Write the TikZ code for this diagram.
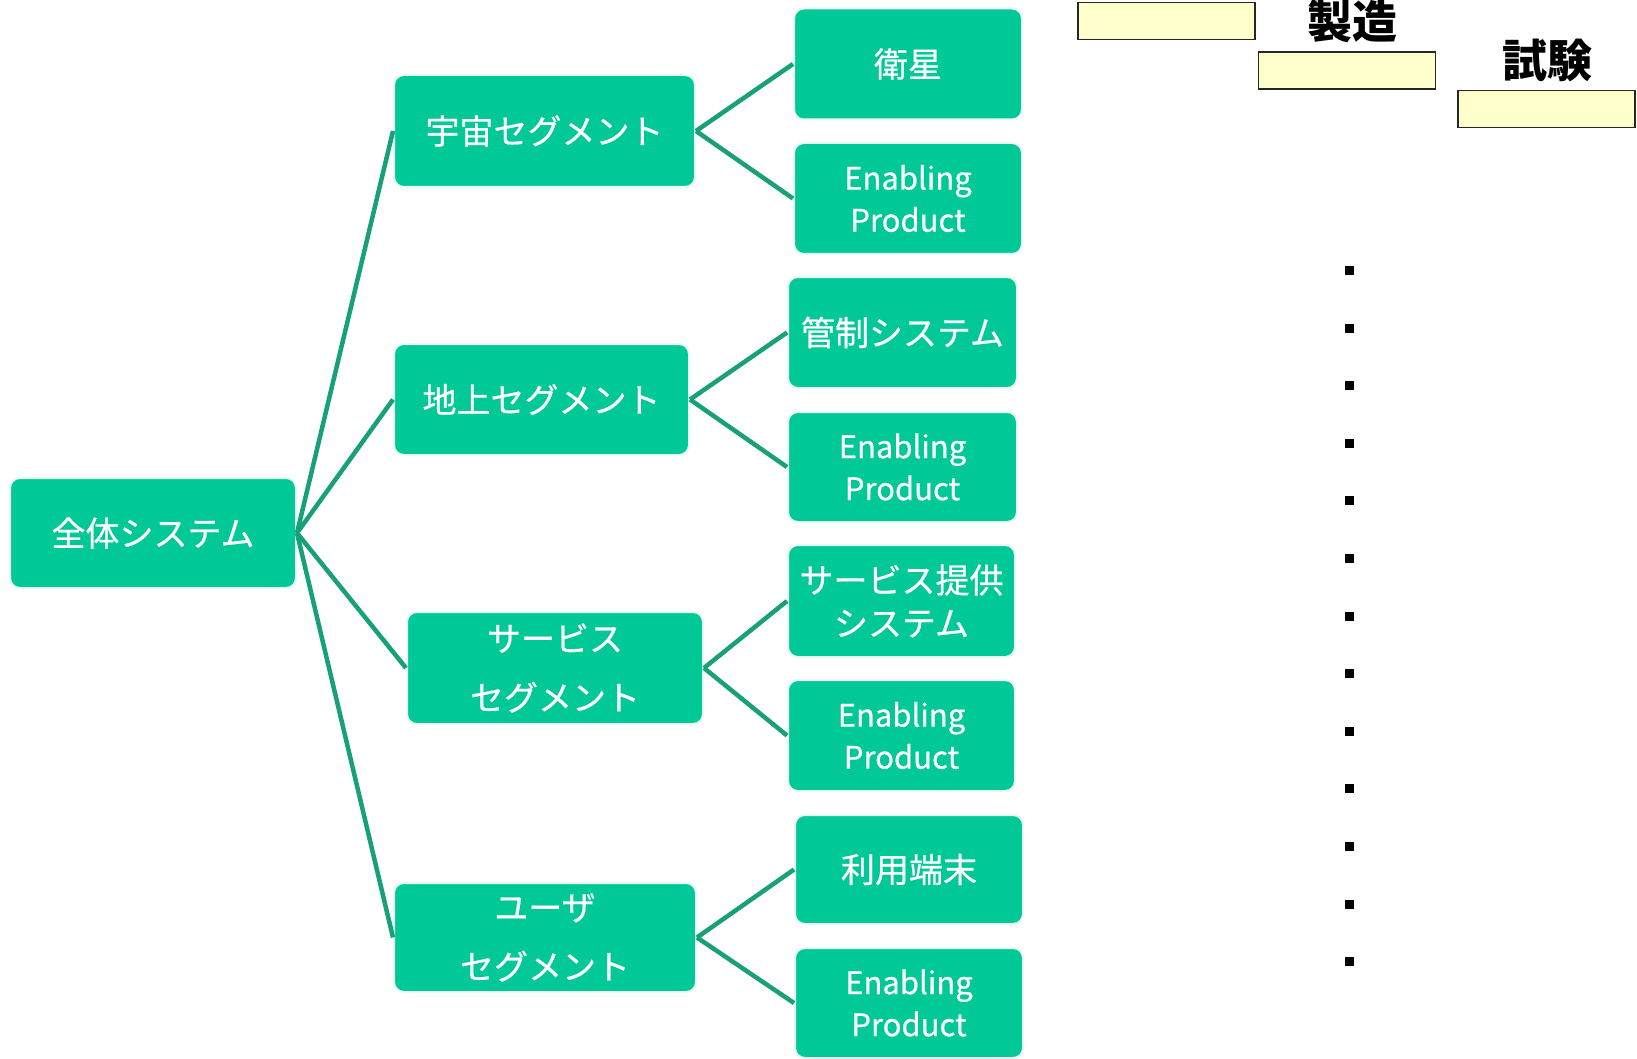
\documentclass[tikz,border=0pt]{standalone}
\usepackage{fontspec}
\setmainfont{Noto Sans CJK JP}
\newfontfamily\boxfont[FakeBold=0.6]{Noto Sans CJK JP}
\definecolor{boxgreen}{RGB}{0,200,150}
\definecolor{linegreen}{RGB}{24,160,120}
\definecolor{halo}{RGB}{232,248,243}
\definecolor{paleyellow}{RGB}{255,255,204}
\begin{document}
\begin{tikzpicture}[x=1pt,y=-1pt,
  gbox/.style={rectangle, rounded corners=10pt, fill=boxgreen, draw=halo, line width=2pt,
    text=white, inner sep=0pt, align=center, font=\boxfont\fontsize{34}{40}\selectfont},
  gbox2/.style={gbox, font=\boxfont\fontsize{34}{59}\selectfont},
  gbox3/.style={gbox, font=\boxfont\fontsize{34}{43}\selectfont},
  ep/.style={gbox, font=\boxfont\fontsize{31}{42}\selectfont},
  conn/.style={draw=linegreen, line width=4.5pt},
  ybox/.style={rectangle, fill=paleyellow, draw=black!85, line width=1.5pt,
    minimum width=177pt, minimum height=37pt, inner sep=0pt},
  sqdot/.style={rectangle, fill=black, inner sep=0pt, minimum size=9pt},
  ttl/.style={font=\fontsize{45}{50}\selectfont\bfseries, text=black, inner sep=0pt}]
\useasboundingbox (0,0) rectangle (1637,1059);

% root
\node[gbox, minimum width=286pt, minimum height=110pt] (all) at (153,533) {全体システム};

% segments
\node[gbox, minimum width=301pt, minimum height=112pt] (uchu) at (544.5,131) {宇宙セグメント};
\node[gbox, minimum width=295pt, minimum height=111pt] (chijo) at (541.5,399.5) {地上セグメント};
\node[gbox2, minimum width=296pt, minimum height=112pt] (serv) at (555,668) {サービス\\セグメント};
\node[gbox2, minimum width=302pt, minimum height=109pt] (user) at (545,937.5) {ユーザ\\セグメント};

% leaves
\node[gbox, minimum width=228pt, minimum height=111pt] (eisei) at (908,64) {衛星};
\node[ep, minimum width=228pt, minimum height=111pt] (en1) at (908,198.5) {Enabling\\Product};
\node[gbox, minimum width=229pt, minimum height=111pt] (kansei) at (902.5,332.5) {管制システム};
\node[ep, minimum width=229pt, minimum height=110pt] (en2) at (902.5,467) {Enabling\\Product};
\node[gbox3, minimum width=227pt, minimum height=112pt] (teikyo) at (901.5,601) {サービス提供\\システム};
\node[ep, minimum width=227pt, minimum height=111pt] (en3) at (901.5,735.5) {Enabling\\Product};
\node[gbox, minimum width=228pt, minimum height=109pt] (riyo) at (909,869.5) {利用端末};
\node[ep, minimum width=228pt, minimum height=110pt] (en4) at (909,1003) {Enabling\\Product};

% connectors
\draw[conn] (all.east) -- (uchu.west);
\draw[conn] (all.east) -- (chijo.west);
\draw[conn] (all.east) -- (serv.west);
\draw[conn] (all.east) -- (user.west);
\draw[conn] (uchu.east) -- (eisei.west);
\draw[conn] (uchu.east) -- (en1.west);
\draw[conn] (chijo.east) -- (kansei.west);
\draw[conn] (chijo.east) -- (en2.west);
\draw[conn] (serv.east) -- (teikyo.west);
\draw[conn] (serv.east) -- (en3.west);
\draw[conn] (user.east) -- (riyo.west);
\draw[conn] (user.east) -- (en4.west);

% schedule bars
\node[ybox] (y1) at (1166.5,21) {};
\node[ybox] (y2) at (1347,70.5) {};
\node[ybox] (y3) at (1546.5,109) {};
\node[ttl] (seizo) at (1352,21) {製造};
\node[ttl] (shiken) at (1547,60) {試験};

% dots
\foreach \i in {0,...,12} {
  \node[sqdot] (d\i) at ({1349.5},{270.5+57.6*\i}) {};
}
\end{tikzpicture}
\end{document}
